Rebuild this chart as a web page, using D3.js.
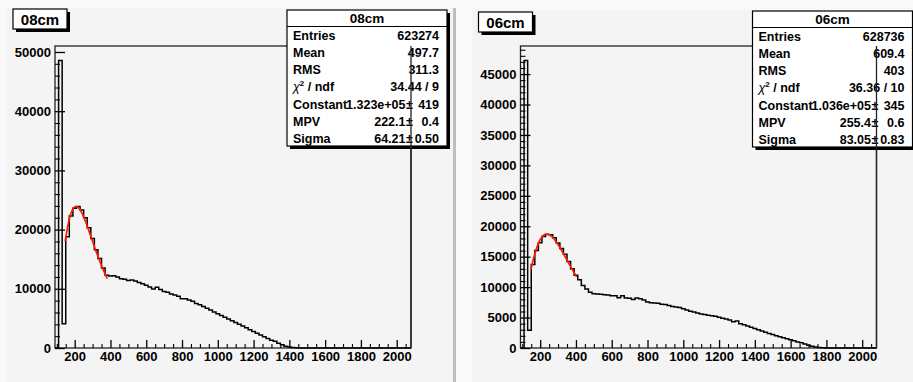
<!DOCTYPE html>
<html><head><meta charset="utf-8">
<script src="https://cdn.jsdelivr.net/npm/d3@7"></script>
<style>
html,body{margin:0;padding:0;background:#f9f9f9;}
svg{display:block;}
text{font-family:"Liberation Sans",Arial,Helvetica,sans-serif;font-weight:bold;fill:#000;}
</style></head><body>
<svg id="c" width="913" height="382"></svg>
<script>
// ---------------- data ----------------
const binStart = 90, binWidth = 20;
const xDomain = [90, 2080];
const xMajorTicks = [200, 400, 600, 800, 1000, 1200, 1400, 1600, 1800, 2000];
const xMinorStep = 50;

const titles = ["08cm", "06cm"];

const counts08 = [0, 48580, 4100, 18800, 22300, 23600, 23900, 23300, 22000, 20300,
  18500, 16600, 15100, 13500, 12300, 12150, 12200, 12000, 11700, 11600,
  11420, 11500, 11300, 11080, 10860, 10580, 10300, 9970, 10250, 9900,
  9560, 9400, 9120, 8960, 8720, 8330, 8330, 8100, 7880, 7530,
  7300, 7030, 6700, 6400, 6100, 5800, 5500, 5200, 4900, 4600,
  4300, 4000, 3700, 3400, 3100, 2800, 2500, 2200, 1900, 1600,
  1300, 1150, 800, 550, 300, 150, 70, 30, 10, 0];

const counts06 = [0, 47250, 2900, 13700, 16000, 17300, 18300, 18650, 18600, 18100,
  17250, 16350, 15400, 14200, 13000, 11950, 11200, 10250, 9700, 9150,
  8930, 8880, 8820, 8760, 8710, 8600, 8600, 8270, 8600, 8220,
  8170, 7950, 8200, 8100, 7900, 7560, 7450, 7400, 7350, 7200,
  7150, 7000, 6800, 6750, 6650, 6450, 6250, 6050, 5900, 5750,
  5600, 5500, 5400, 5300, 5200, 5050, 4900, 4750, 4600, 4300,
  4450, 4000, 3800, 3600, 3400, 3200, 3000, 2800, 2600, 2400,
  2200, 2000, 1850, 1700, 1500, 1350, 1200, 1000, 850, 650,
  450, 300, 180, 100, 50, 20, 0];

const yMax08 = 51010, yMax06 = 49612;
const yMajor08 = [0, 10000, 20000, 30000, 40000, 50000];
const yMajor06 = [0, 5000, 10000, 15000, 20000, 25000, 30000, 35000, 40000, 45000];
const yMinorStep08 = 2000, yMinorStep06 = 1000;

const statLabels = ["Entries", "Mean", "RMS", "chi2", "Constant", "MPV", "Sigma"];
const statValues08 = ["623274", "497.7", "311.3", "34.44 / 9", "1.323e+05", "222.1", "64.21"];
const statErrors08 = ["", "", "", "", "419", "0.4", "0.50"];
const statValues06 = ["628736", "609.4", "403", "36.36 / 10", "1.036e+05", "255.4", "83.05"];
const statErrors06 = ["", "", "", "", "345", "0.6", "0.83"];

const fitParams08 = [1.323e5, 222.1, 64.21], fitRange08 = [147, 382];
const fitParams06 = [1.036e5, 255.4, 83.05], fitRange06 = [149, 404];

// ---------------- Landau (ROOT/CERNLIB denlan) ----------------
function denlan(v) {
  const p1=[0.4259894875,-0.1249762550,0.03984243700,-0.006298287635,0.001511162253];
  const q1=[1.0,-0.3388260629,0.09594393323,-0.01608042283,0.003778942063];
  const p2=[0.1788541609,0.1173957403,0.01488850518,-0.001394989411,0.0001283617211];
  const q2=[1.0,0.7428795082,0.3153932961,0.06694219548,0.008790609714];
  const p3=[0.1788544503,0.09359161662,0.006325387654,0.00006611667319,-0.000002031049101];
  const q3=[1.0,0.6097809921,0.2560616665,0.04746722384,0.006957301675];
  const p4=[0.9874054407,118.6723273,849.2794360,-743.7792444,427.0262186];
  const q4=[1.0,106.8615961,337.6496214,2016.712389,1597.063511];
  const a1=[0.04166666667,-0.01996527778,0.02709538966];
  const poly=(p,x)=>p[0]+(p[1]+(p[2]+(p[3]+p[4]*x)*x)*x)*x;
  let u;
  if (v < -5.5) { u=Math.exp(v+1); if(u<1e-10) return 0; return 0.3989422803*(Math.exp(-1/u)/Math.sqrt(u))*(1+(a1[0]+(a1[1]+a1[2]*u)*u)*u); }
  if (v < -1) { u=Math.exp(-v-1); return Math.exp(-u)*Math.sqrt(u)*poly(p1,v)/poly(q1,v); }
  if (v < 1) return poly(p2,v)/poly(q2,v);
  if (v < 5) return poly(p3,v)/poly(q3,v);
  u=1/v; return u*u*poly(p4,u)/poly(q4,u);
}

// ---------------- drawing ----------------
const svg = d3.select("#c");
const W = 913, H = 382;
svg.append("rect").attr("width", W).attr("height", H).attr("fill", "#f9f9f9");

const pads = [
  {dx: 0, padX: 7, padY: 8, padW: 449, counts: counts08, yMax: yMax08, yMajor: yMajor08, yMinor: yMinorStep08,
   title: titles[0], vals: statValues08, errs: statErrors08, fit: fitParams08, fitRange: fitRange08, titleY: 9, statY: 10},
  {dx: 465.5, padX: 472.5, padY: 10, padW: 441, counts: counts06, yMax: yMax06, yMajor: yMajor06, yMinor: yMinorStep06,
   title: titles[1], vals: statValues06, errs: statErrors06, fit: fitParams06, fitRange: fitRange06, titleY: 12, statY: 11}
];

pads.forEach((p, idx) => {
  svg.append("rect").attr("x", p.padX).attr("y", p.padY).attr("width", p.padW).attr("height", H - p.padY)
    .attr("fill", "#f4f4f4");
  if (idx === 0) {
    svg.append("rect").attr("x", 453).attr("y", p.padY).attr("width", 3).attr("height", H - p.padY).attr("fill", "#bdbdbd");
  }

  const g = svg.append("g").attr("transform", `translate(${p.dx},0)`);
  const fx0 = 55, fx1 = 411, fy0 = 46, fy1 = 348;
  const x = d3.scaleLinear().domain(xDomain).range([fx0, fx1]);
  const y = d3.scaleLinear().domain([0, p.yMax]).range([fy1, fy0]);

  const clipId = "clip" + idx;
  g.append("clipPath").attr("id", clipId).append("rect")
    .attr("x", fx0).attr("y", fy0).attr("width", fx1 - fx0).attr("height", fy1 - fy0 + 1);

  g.append("rect").attr("x", fx0).attr("y", fy0).attr("width", fx1 - fx0).attr("height", fy1 - fy0)
    .attr("fill", "none").attr("stroke", "#222").attr("stroke-width", 1.3);

  const pts = [];
  p.counts.forEach((c, i) => pts.push([binStart + i * binWidth, c]));
  const lastHi = binStart + p.counts.length * binWidth;
  pts.push([lastHi, 0]);
  pts.push([xDomain[1] + 20, 0]);
  const line = d3.line().x(d => x(d[0])).y(d => y(d[1])).curve(d3.curveStepAfter);
  g.append("path").attr("d", line(pts)).attr("fill", "none").attr("stroke", "#000")
    .attr("stroke-width", 1.5).attr("clip-path", `url(#${clipId})`);

  const fpts = d3.range(0, 121).map(k => {
    const xv = p.fitRange[0] + (p.fitRange[1] - p.fitRange[0]) * k / 120;
    return [xv, p.fit[0] * denlan((xv - p.fit[1]) / p.fit[2])];
  });
  g.append("path").attr("d", d3.line().x(d => x(d[0])).y(d => y(d[1]))(fpts))
    .attr("fill", "none").attr("stroke", "#ff1a00").attr("stroke-width", 1.7);

  const xMinorTicks = d3.range(100, xDomain[1] + 1, xMinorStep).filter(v => !xMajorTicks.includes(v));
  const xa = g.append("g").attr("transform", `translate(0,${fy1})`)
    .call(d3.axisBottom(x).tickValues(xMajorTicks).tickSizeInner(-8).tickSizeOuter(0).tickPadding(4).tickFormat(d3.format("d")));
  xa.select(".domain").remove();
  xa.selectAll("line").attr("stroke", "#000").attr("stroke-width", 1.3);
  xa.selectAll("text").attr("font-size", 13).attr("fill", "#000").attr("font-family", null);
  const xm = g.append("g").attr("transform", `translate(0,${fy1})`)
    .call(d3.axisBottom(x).tickValues(xMinorTicks).tickSizeInner(-4).tickSizeOuter(0).tickFormat(""));
  xm.select(".domain").remove();
  xm.selectAll("line").attr("stroke", "#000").attr("stroke-width", 1.1);

  const ya = g.append("g").attr("transform", `translate(${fx0},0)`)
    .call(d3.axisLeft(y).tickValues(p.yMajor).tickSizeInner(-10).tickSizeOuter(0).tickPadding(4).tickFormat(d3.format("d")));
  ya.select(".domain").remove();
  ya.selectAll("line").attr("stroke", "#000").attr("stroke-width", 1.3);
  ya.selectAll("text").attr("font-size", 13).attr("fill", "#000").attr("font-family", null);
  const yMinorTicks = d3.range(0, p.yMax, p.yMinor).filter(v => !p.yMajor.includes(v));
  const ym = g.append("g").attr("transform", `translate(${fx0},0)`)
    .call(d3.axisLeft(y).tickValues(yMinorTicks).tickSizeInner(-5).tickSizeOuter(0).tickFormat(""));
  ym.select(".domain").remove();
  ym.selectAll("line").attr("stroke", "#000").attr("stroke-width", 1.1);

  const tb = {x: 13, y: p.titleY, w: 54, h: 20};
  g.append("rect").attr("x", tb.x + 3).attr("y", tb.y + 3).attr("width", tb.w).attr("height", tb.h).attr("fill", "#000");
  g.append("rect").attr("x", tb.x).attr("y", tb.y).attr("width", tb.w).attr("height", tb.h)
    .attr("fill", "#fff").attr("stroke", "#000").attr("stroke-width", 1.2);
  g.append("text").attr("x", tb.x + tb.w / 2).attr("y", tb.y + tb.h / 2 + 5.5).attr("text-anchor", "middle")
    .attr("font-size", 15).text(p.title);

  const sb = {x: 287, y: p.statY, w: 160, h: 136};
  g.append("rect").attr("x", sb.x + 3).attr("y", sb.y + 3).attr("width", sb.w).attr("height", sb.h).attr("fill", "#000");
  g.append("rect").attr("x", sb.x).attr("y", sb.y).attr("width", sb.w).attr("height", sb.h)
    .attr("fill", "#fff").attr("stroke", "#000").attr("stroke-width", 1.2);
  g.append("line").attr("x1", sb.x).attr("x2", sb.x + sb.w).attr("y1", sb.y + 16.5).attr("y2", sb.y + 16.5)
    .attr("stroke", "#000").attr("stroke-width", 1.2);
  g.append("text").attr("x", sb.x + sb.w / 2).attr("y", sb.y + 13).attr("text-anchor", "middle")
    .attr("font-size", 13.5).text(p.title);
  statLabels.forEach((lab, i) => {
    const ry = sb.y + 29.5 + i * 17.3;
    const t = g.append("text").attr("x", sb.x + 6).attr("y", ry).attr("font-size", 12.5);
    if (lab === "chi2") {
      t.append("tspan").attr("font-style", "italic").attr("font-weight", "normal").text("χ");
      t.append("tspan").attr("font-size", 8).attr("dy", -5).text("2");
      t.append("tspan").attr("dy", 5).text(" / ndf");
    } else t.text(lab);
    if (p.errs[i]) {
      g.append("text").attr("x", sb.x + 118.5).attr("y", ry).attr("text-anchor", "end").attr("font-size", 12.5).text(p.vals[i]);
      g.append("text").attr("x", sb.x + 122.5).attr("y", ry).attr("text-anchor", "middle").attr("font-size", 12.5).attr("font-weight", "normal").text("±");
      g.append("text").attr("x", sb.x + 152).attr("y", ry).attr("text-anchor", "end").attr("font-size", 12.5).text(p.errs[i]);
    } else {
      g.append("text").attr("x", sb.x + 152).attr("y", ry).attr("text-anchor", "end").attr("font-size", 12.5).text(p.vals[i]);
    }
  });

  g.append("line").attr("x1", fx1).attr("x2", fx1).attr("y1", fy0).attr("y2", fy1)
    .attr("stroke", "#222").attr("stroke-width", 1.3);
});
</script>
</body></html>
